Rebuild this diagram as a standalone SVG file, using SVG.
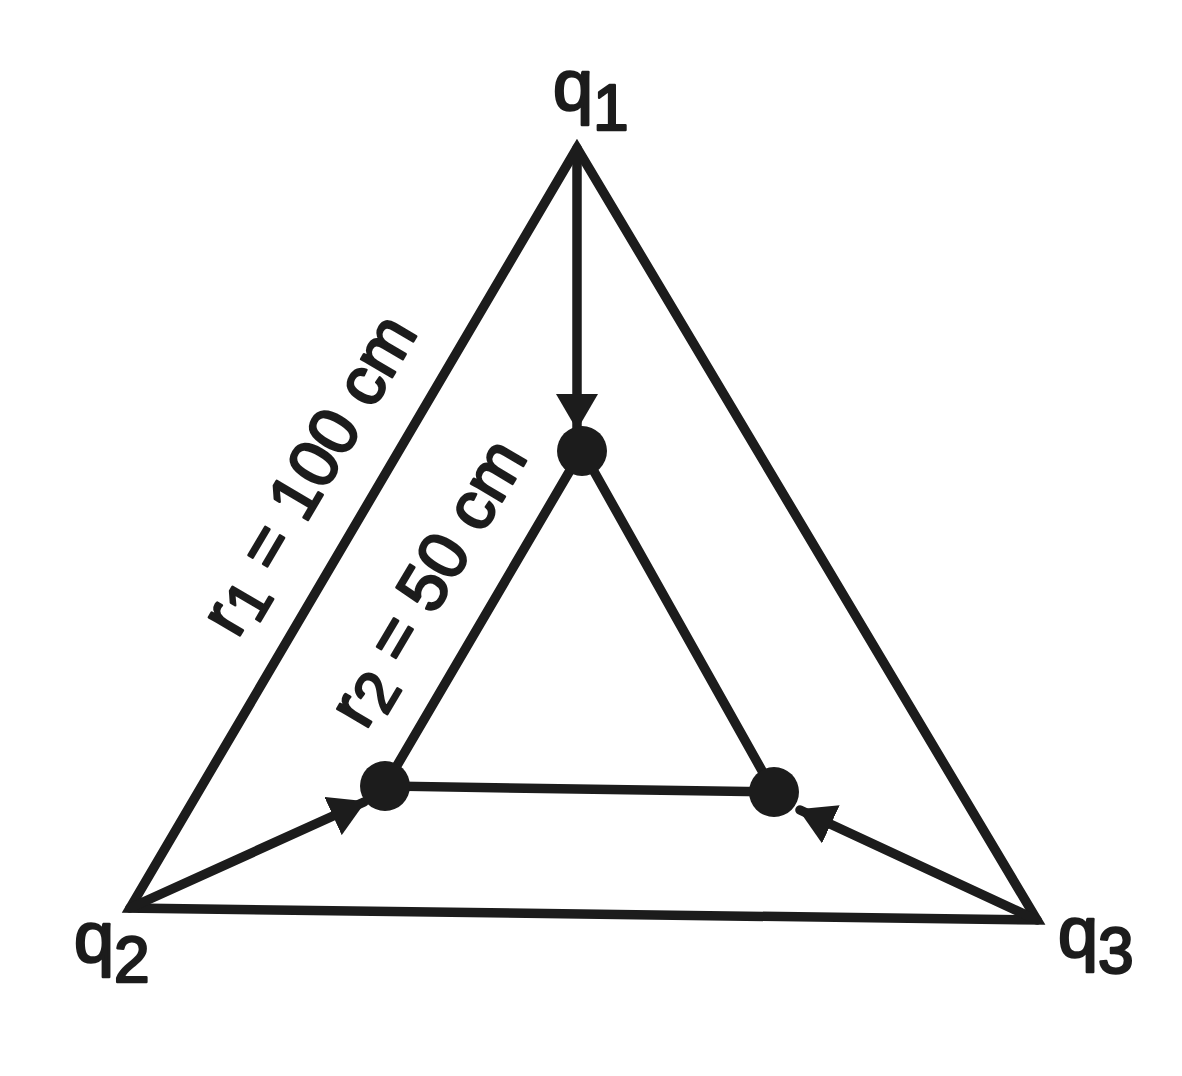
<svg xmlns="http://www.w3.org/2000/svg" width="1182" height="1076" viewBox="0 0 1182 1076">
<style>
.ln{stroke:#1c1c1c;stroke-width:9.5;fill:none;stroke-linecap:round}
.tri{stroke:#1c1c1c;stroke-width:9.5;fill:none;stroke-linejoin:miter;stroke-miterlimit:10}
.dot{fill:#1c1c1c}
.lbl{font-family:"Liberation Sans",Arial,sans-serif;fill:#1c1c1c;stroke:#1c1c1c;stroke-width:2.5;stroke-linejoin:round}
</style>
<defs>
<marker id="ah" viewBox="0 0 36 42" refX="34" refY="21" markerWidth="36" markerHeight="42" markerUnits="userSpaceOnUse" orient="auto">
<path d="M0,0 L36,21 L0,42 Z" fill="#1c1c1c"/>
</marker>
</defs>
<rect width="1182" height="1076" fill="#ffffff"/>
<g id="connectors">
<polygon class="tri" points="577,148 130,908 1037,920"/>
<polyline class="tri" points="582,450 385,786 774,792 582,450"/>
<line class="ln" x1="577" y1="148" x2="577" y2="428" marker-end="url(#ah)"/>
<line class="ln" x1="130" y1="908" x2="364" y2="802" marker-end="url(#ah)"/>
<line class="ln" x1="1037" y1="920" x2="800" y2="810" marker-end="url(#ah)"/>
</g>
<g id="node-center-top"><circle class="dot" cx="582" cy="451" r="25"/></g>
<g id="node-center-left"><circle class="dot" cx="385" cy="786" r="25"/></g>
<g id="node-center-right"><circle class="dot" cx="774" cy="792" r="25"/></g>
<g id="node-q1"><text class="lbl" x="553" y="110" font-size="72">q<tspan font-size="64" dy="20">1</tspan></text></g>
<g id="node-q2"><text class="lbl" x="74" y="962" font-size="72">q<tspan font-size="64" dy="20">2</tspan></text></g>
<g id="node-q3"><text class="lbl" x="1058" y="957" font-size="72">q<tspan font-size="64" dy="16">3</tspan></text></g>
<g id="label-r1"><text class="lbl" font-size="68" text-anchor="middle" transform="translate(328,486) rotate(-59.5)">r<tspan font-size="60" dy="10">1</tspan><tspan dy="-10"> = 100 cm</tspan></text></g>
<g id="label-r2"><text class="lbl" font-size="68" text-anchor="middle" transform="translate(447,594) rotate(-59.3)">r<tspan font-size="60" dy="10">2</tspan><tspan dy="-10"> = 50 cm</tspan></text></g>
</svg>
